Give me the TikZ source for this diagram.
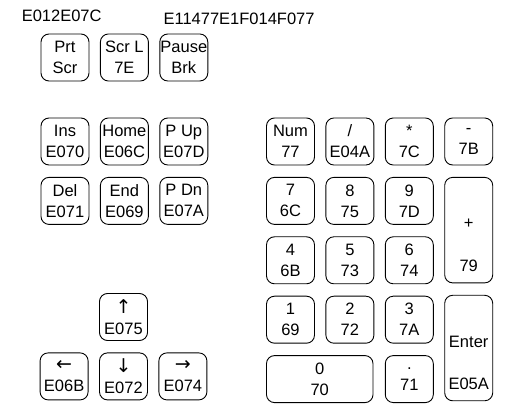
\documentclass[tikz,border=0pt]{standalone}
\usepackage{fontspec}
\setmainfont{Liberation Sans}
\newfontfamily\arrowfont{DejaVu Sans}
\usetikzlibrary{positioning}
\newcommand\keyarrow[1]{{\arrowfont\fontsize{19}{21}\selectfont #1}}

\begin{document}
\begin{tikzpicture}[
  x=1pt, y=-1pt,
  font=\fontsize{16.5}{21}\selectfont,
  node distance=11.5pt and 10.5pt,
  keycap/.style={draw, line width=0.9pt, rounded corners=8pt, minimum width=48pt, minimum height=47pt, inner sep=0pt, align=center, execute at begin node=\rule{0pt}{11.8pt}},
  widekey/.style={keycap, minimum width=106.5pt},
  tallkey/.style={keycap, minimum height=105.5pt},
  keytext/.style={inner sep=0pt, text height=12pt, text depth=0pt},
  codelabel/.style={inner sep=0pt, text height=12pt, text depth=0pt}
]
\useasboundingbox (0,0) rectangle (507,419);

% system keys
\node[keycap] (prt) at (65,57.5) {Prt\\Scr};
\node[keycap, right=of prt] (scrl) {Scr L\\7E};
\node[keycap, right=of scrl] (pause) {Pause\\Brk};
\node[codelabel, above right=11.5pt and -19pt of prt.north west] (prtcode) {E012E07C};
\node[codelabel, above right=9pt and 4pt of pause.north west] (pausecode) {E11477E1F014F077};

% editing block
\node[keycap] (ins) at (65,141.5) {Ins\\E070};
\node[keycap, right=of ins] (home) {Home\\E06C};
\node[keycap, right=of home] (pgup) {P Up\\E07D};
\node[keycap, below=of ins] (del) {Del\\E071};
\node[keycap, right=of del] (end) {End\\E069};
\node[keycap, right=of end] (pgdn) {P Dn\\E07A};

% cursor keys
\node[keycap] (arrup) at (123.5,317) {\keyarrow{↑}\\E075};
\node[keycap, below=of arrup] (arrdown) {\keyarrow{↓}\\E072};
\node[keycap, left=of arrdown] (arrleft) {\keyarrow{←}\\E06B};
\node[keycap, right=of arrdown] (arrright) {\keyarrow{→}\\E074};

% numeric keypad
\node[keycap] (num) at (290.5,141.5) {Num\\77};
\node[keycap, right=of num] (divide) {/\\E04A};
\node[keycap, right=of divide] (times) {*\\7C};
\node[keycap, right=of times] (minus) {-\\7B};
\node[keycap, below=of num] (k7) {7\\6C};
\node[keycap, right=of k7] (k8) {8\\75};
\node[keycap, right=of k8] (k9) {9\\7D};
\node[tallkey, below=of minus] (plus) {};
\node[keycap, below=of k7] (k4) {4\\6B};
\node[keycap, right=of k4] (k5) {5\\73};
\node[keycap, right=of k5] (k6) {6\\74};
\node[keycap, below=of k4] (k1) {1\\69};
\node[keycap, right=of k1] (k2) {2\\72};
\node[keycap, right=of k2] (k3) {3\\7A};
\node[tallkey, below=of plus] (enter) {};
\node[widekey, below=of k1.south west, anchor=north west] (k0) {0\\70};
\node[keycap, below=of k3] (dot) {.\\71};

\node[keytext, below=39pt of plus.north] (plustop) {+};
\node[keytext, below=82pt of plus.north] (plusbot) {79};
\node[keytext, below=40pt of enter.north] (entertop) {Enter};
\node[keytext, below=82pt of enter.north] (enterbot) {E05A};
\end{tikzpicture}
\end{document}
